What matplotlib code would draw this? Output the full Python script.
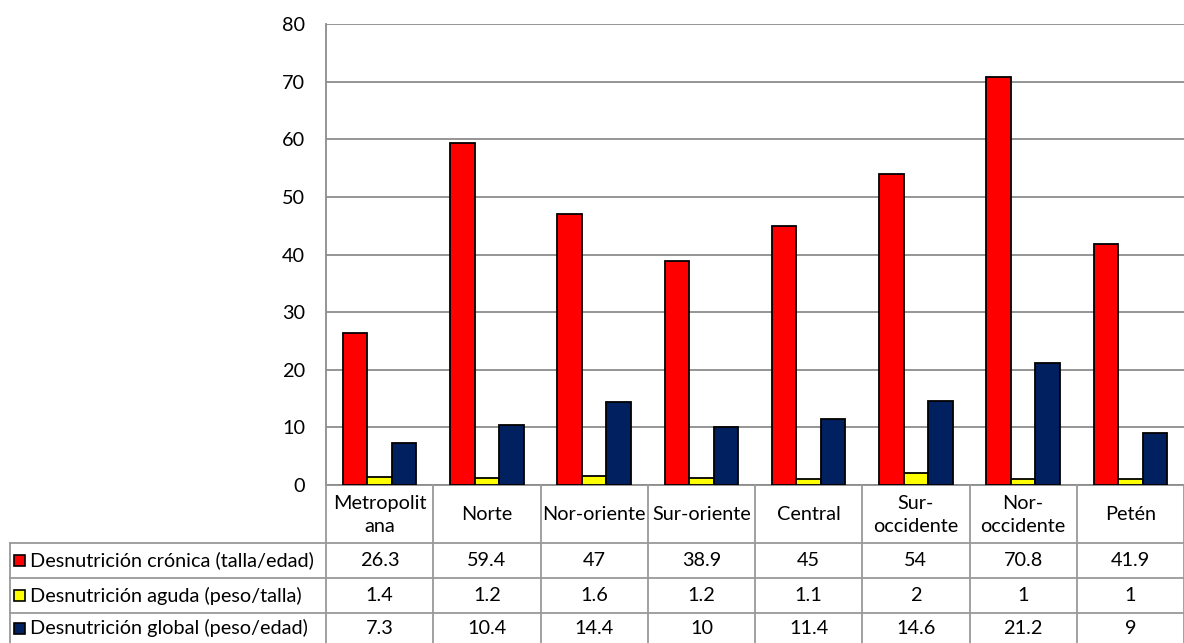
import matplotlib
matplotlib.use("Agg")
import matplotlib.pyplot as plt
from matplotlib.patches import Rectangle

plt.rcParams['font.family'] = ['Lato', 'DejaVu Sans']

# Data
regions = ["Metropolit\nana", "Norte", "Nor-oriente", "Sur-oriente", "Central",
           "Sur-\noccidente", "Nor-\noccidente", "Petén"]
series_names = ["Desnutrición crónica (talla/edad)",
                "Desnutrición aguda (peso/talla)",
                "Desnutrición global (peso/edad)"]
cronica = [26.3, 59.4, 47, 38.9, 45, 54, 70.8, 41.9]
aguda = [1.4, 1.2, 1.6, 1.2, 1.1, 2, 1, 1]
global_ = [7.3, 10.4, 14.4, 10, 11.4, 14.6, 21.2, 9]
series = [cronica, aguda, global_]
colors = ["#FF0000", "#FFFF00", "#002060"]
yticks = [0, 10, 20, 30, 40, 50, 60, 70, 80]

W, H = 1184, 643
FS = 14.3
fig = plt.figure(figsize=(W / 100, H / 100), dpi=100)

# Plot area in pixel terms
px_left, px_right, px_top, px_bottom = 326, 1184, 24, 485
ax = fig.add_axes([px_left / W, 1 - px_bottom / H,
                   (px_right - px_left) / W, (px_bottom - px_top) / H])

grid_c = "#8c8c8c"
n = len(regions)
bw = 0.228
for k, (vals, col) in enumerate(zip(series, colors)):
    xs = [i + (k - 1) * bw for i in range(n)]
    ax.bar(xs, vals, width=bw, color=col, edgecolor="black", linewidth=1.3, zorder=3)

ax.set_xlim(-0.5, n - 0.5)
ax.set_ylim(0, 80)
ax.set_yticks(yticks)
ax.set_yticklabels([str(t) for t in yticks], fontsize=FS)
ax.yaxis.grid(True, color=grid_c, linewidth=1.3, zorder=0)
ax.set_axisbelow(True)
ax.tick_params(axis="y", length=0, pad=15)
ax.tick_params(axis="x", length=0, labelbottom=False)
for s in ["top", "right"]:
    ax.spines[s].set_visible(False)
for s in ["left", "bottom"]:
    ax.spines[s].set_color(grid_c)
    ax.spines[s].set_linewidth(1.3)

# Data table drawn beneath the axis
ov = fig.add_axes([0, 0, 1, 1])
ov.set_xlim(0, W)
ov.set_ylim(H, 0)
ov.axis("off")

tbl_c = "#999999"
col_w = (px_right - px_left) / n
row_edges = [485, 543, 578, 613, 648]
label_left = 10

# vertical column lines
for i in range(n + 1):
    x = px_left + i * col_w
    ov.plot([x, x], [row_edges[0], row_edges[-1]], color=tbl_c, lw=1.3)
ov.plot([label_left, label_left], [row_edges[1], row_edges[-1]], color=tbl_c, lw=1.3)
# horizontal row lines
for y in row_edges[1:4]:
    ov.plot([label_left, W], [y, y], color=tbl_c, lw=1.3)

# header row
for i, name in enumerate(regions):
    xc = px_left + (i + 0.5) * col_w
    ov.text(xc, (row_edges[0] + row_edges[1]) / 2 + 1, name, ha="center", va="center",
            fontsize=FS, linespacing=1.4)

# value rows with legend keys
for r, (label, vals, col) in enumerate(zip(series_names, series, colors)):
    yc = (row_edges[r + 1] + min(row_edges[r + 2], H)) / 2
    ov.add_patch(Rectangle((14, yc - 5.5), 11, 11, facecolor=col, edgecolor="black", lw=1.2))
    ov.text(30, yc, label, ha="left", va="center", fontsize=FS)
    for i, v in enumerate(vals):
        xc = px_left + (i + 0.5) * col_w
        ov.text(xc, yc, f"{v:g}", ha="center", va="center", fontsize=FS)

fig.savefig("out.png", dpi=100)
